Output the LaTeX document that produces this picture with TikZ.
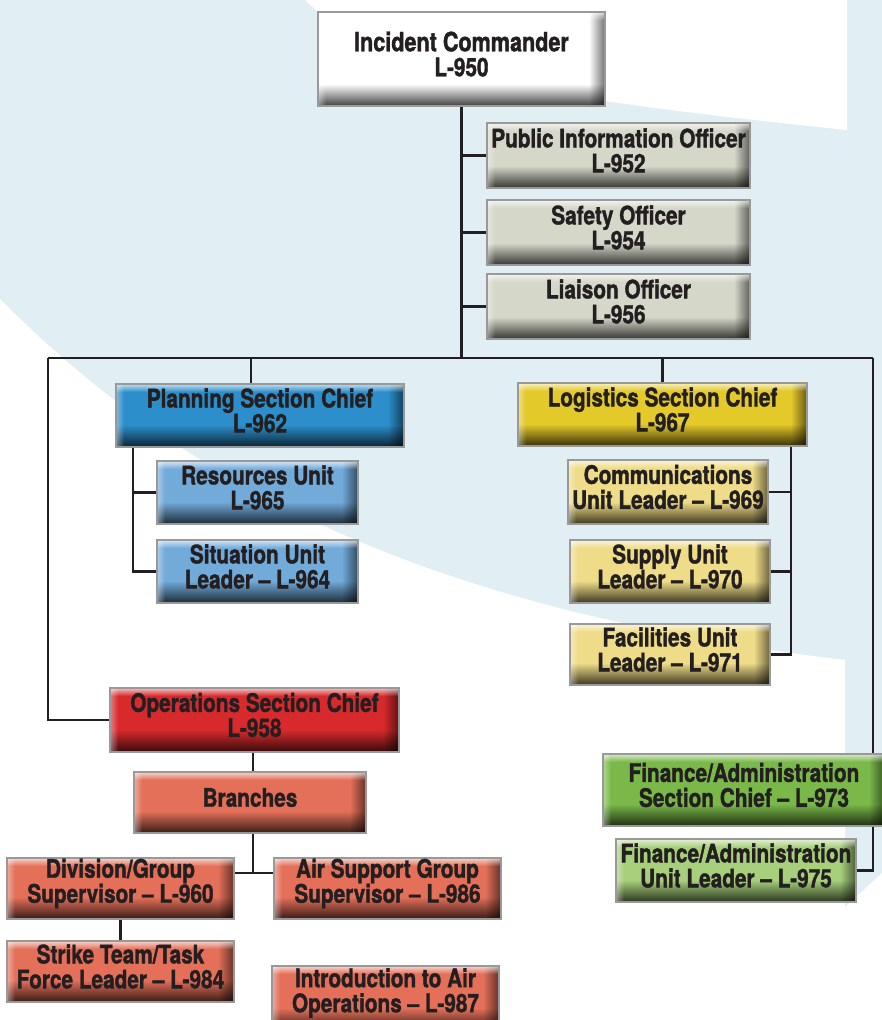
\documentclass[tikz,border=0pt]{standalone}
\usepackage{fontspec}
\setmainfont{TeX Gyre Heros}[FakeStretch=0.815, BoldFeatures={FakeBold=1.4}]
\usetikzlibrary{fadings,calc}
\definecolor{bgblue}{HTML}{E1EEF4}
\definecolor{ink}{HTML}{231F20}
\definecolor{offc}{HTML}{D5D8C9}
\definecolor{plan}{HTML}{2C8ECB}
\definecolor{planu}{HTML}{72AADA}
\definecolor{logi}{HTML}{E4C92B}
\definecolor{logu}{HTML}{EFDC88}
\definecolor{ops}{HTML}{D82A2C}
\definecolor{opsu}{HTML}{E4705A}
\definecolor{fin}{HTML}{7AB84A}
\definecolor{finu}{HTML}{A8D07C}
\pgfdeclarelayer{bgzero}
\pgfdeclarelayer{bgone}
\pgfsetlayers{bgzero,bgone,main}
\tikzset{
 orgbox/.style={rectangle, draw=black!40, line width=1.2pt, fill=#1, inner sep=0pt,
   path picture={
     \coordinate (pa) at (path picture bounding box.north west);
     \coordinate (pb) at (path picture bounding box.south east);
     \fill[black, path fading=north, fill opacity=0.75] ($(pa|-pb)+(0pt,22pt)$) rectangle (pb);
     \fill[black, path fading=west, fill opacity=0.55] ($(pb|-pa)+(-16pt,0pt)$) rectangle (pb);
     \fill[white, path fading=south, fill opacity=0.7] (pa) rectangle ($(pb|-pa)+(0pt,-8pt)$);
     \fill[white, path fading=east, fill opacity=0.4] (pa) rectangle ($(pa|-pb)+(8pt,0pt)$);
   }},
 lbl/.style={align=center, text=ink, font=\fontsize{25.5}{25}\selectfont\bfseries, inner sep=0pt},
 link/.style={draw=ink, line width=2.4pt}
}
\newcommand\orgnode[7]{%
 \node[orgbox=#2, minimum width={(#5-#3)*1pt}, minimum height={(#6-#4)*1pt}] (#1) at ({(#3+#5)/2},{(#4+#6)/2}) {};
 \node[lbl] (#1-t) at ([yshift=5pt]#1.center) {#7};}
\begin{document}
\begin{tikzpicture}[x=1pt,y=-1pt]
\useasboundingbox (0,0) rectangle (882,1020);
\begin{pgfonlayer}{bgzero}
\fill[bgblue] (0,0) rectangle (882,1020);
\fill[white] (305,0) .. controls (380,75) and (560,100) .. (847,130) -- (847,0) -- cycle;
\fill[white] (0,299) .. controls (190,490) and (430,610) .. (845,660) -- (845,907) -- (882,873) -- (882,1020) -- (0,1020) -- cycle;
\end{pgfonlayer}

\orgnode{ic}{white}{318}{12}{605}{106}{\fontsize{26.5}{26}\selectfont Incident Commander\\L-950}
\orgnode{pio}{offc}{487}{123}{750}{188}{Public Information Officer\\L-952}
\orgnode{so}{offc}{487}{200}{750}{265}{Safety Officer\\L-954}
\orgnode{lo}{offc}{487}{274}{750}{339}{Liaison Officer\\L-956}
\orgnode{psc}{plan}{116}{384}{404}{447}{Planning Section Chief\\L-962}
\orgnode{ru}{planu}{157}{461}{358}{524}{Resources Unit\\L-965}
\orgnode{su}{planu}{157}{540}{358}{603}{Situation Unit\\Leader -- L-964}
\orgnode{lsc}{logi}{518}{383}{807}{446}{Logistics Section Chief\\L-967}
\orgnode{cu}{logu}{568}{460}{768}{524}{Communications\\Unit Leader -- L-969}
\orgnode{spu}{logu}{570}{540}{770}{603}{Supply Unit\\Leader -- L-970}
\orgnode{fu}{logu}{570}{624}{770}{685}{Facilities Unit\\Leader -- L-971}
\orgnode{osc}{ops}{110}{688}{399}{752}{Operations Section Chief\\L-958}
\orgnode{br}{opsu}{134}{772}{366}{833}{Branches}
\orgnode{dg}{opsu}{7}{858}{234}{919}{Division/Group\\Supervisor -- L-960}
\orgnode{as}{opsu}{274}{858}{501}{919}{Air Support Group\\Supervisor -- L-986}
\orgnode{st}{opsu}{7}{941}{234}{1002}{Strike Team/Task\\Force Leader -- L-984}
\orgnode{iao}{opsu}{272}{966}{499}{1030}{Introduction to Air\\Operations -- L-987}
\orgnode{fsc}{fin}{603}{754}{885}{826}{Finance/Administration\\Section Chief -- L-973}
\orgnode{faul}{finu}{616}{839}{856}{902}{Finance/Administration\\Unit Leader -- L-975}

\begin{pgfonlayer}{bgone}
\coordinate (barL) at (48,358);
\coordinate (barR) at (873,358);
\coordinate (pv) at (133,447);
\coordinate (lv) at (791,446);
\coordinate (bj) at (253,873);
\draw[link] (ic.south) -- (ic.south |- barL);
\draw[link] (barL) -- (barR);
\draw[link] (pio.west) -- (pio.west -| ic.south);
\draw[link] (so.west) -- (so.west -| ic.south);
\draw[link] (lo.west) -- (lo.west -| ic.south);
\draw[link] ([xshift=-9pt]psc.north) -- ([xshift=-9pt]psc.north |- barL);
\draw[link] (lsc.north) -- (lsc.north |- barL);
\draw[link] (barL) |- (osc.west);
\draw[link] (barR) |- (faul.east);
\draw[link] (pv) |- (su.west);
\draw[link] (pv |- ru.west) -- (ru.west);
\draw[link] (lv) |- (fu.east);
\draw[link] (lv |- cu.east) -- (cu.east);
\draw[link] (lv |- spu.east) -- (spu.east);
\draw[link] (osc.south -| bj) -- (br.north -| bj);
\draw[link] (br.south -| bj) -- (bj);
\draw[link] (dg.east |- bj) -- (as.west |- bj);
\draw[link] (dg.south) -- (st.north);
\end{pgfonlayer}
\end{tikzpicture}
\end{document}
